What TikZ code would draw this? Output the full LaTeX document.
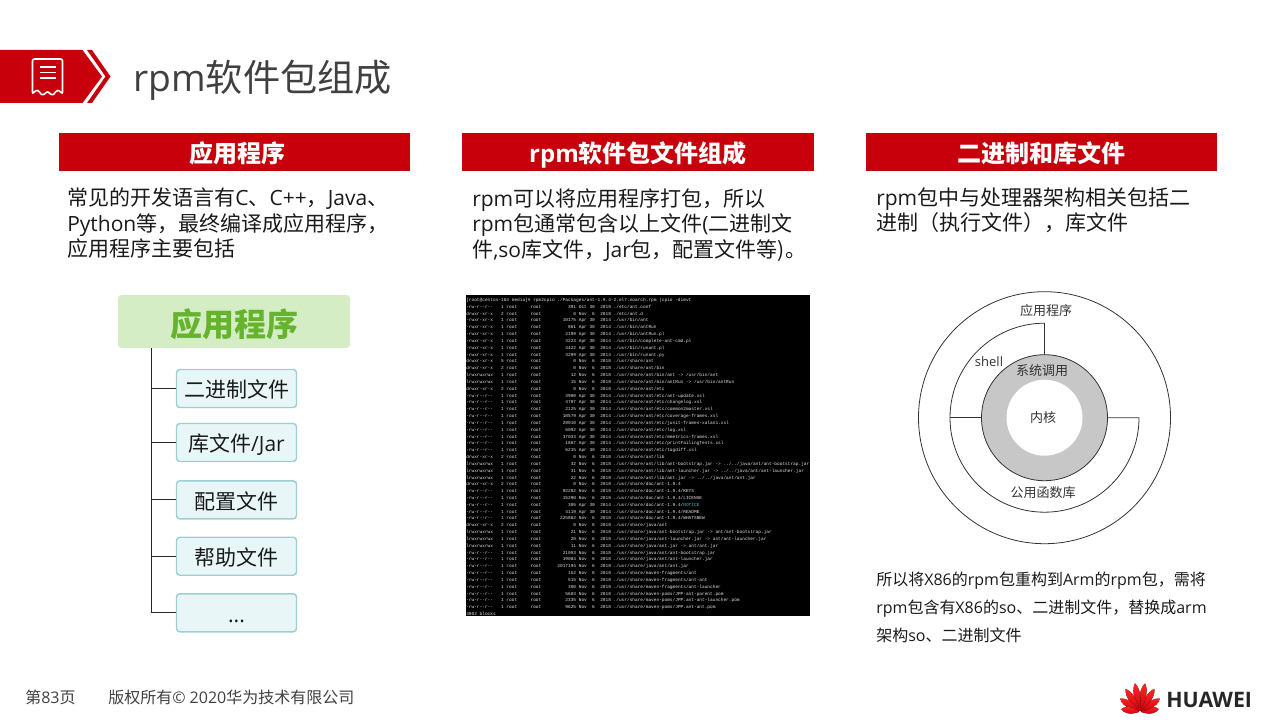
\documentclass[tikz,border=0pt]{standalone}
\usepackage{fontspec}
\setmainfont{Open Sans}
\newfontfamily\zhfont{Noto Sans CJK SC}
\newfontfamily\termfont{Liberation Mono}
\newcommand{\zh}[1]{{\zhfont #1}}
% one row of the listing: mode, links, size, date, year, name
\newcommand{\termrow}[6]{#1~\makebox[1.8em][r]{#2}~root~~~~~root~~~~~\makebox[4.8em][r]{#3}~#4~~#5~#6}
\definecolor{hwred}{HTML}{C7000B}
\definecolor{titlegray}{HTML}{404040}
\definecolor{bodyblack}{HTML}{1A1A1A}
\definecolor{appgreen}{HTML}{D5EDC5}
\definecolor{appgreentext}{HTML}{66B32E}
\definecolor{filefill}{HTML}{E8F6F8}
\definecolor{fileline}{HTML}{9CCFD2}
\definecolor{termtextcol}{HTML}{E4E4E4}
\definecolor{termcyan}{HTML}{22C8D8}
\tikzstyle{headbar} = [fill=hwred, text=white, minimum width=263.3pt, minimum height=28.5pt, inner sep=0pt, text height=18pt, text depth=2.8pt, font=\fontsize{18}{20}\selectfont\bfseries]
\tikzstyle{bodytext} = [anchor=north west, inner sep=0pt, align=left, text=bodyblack, font=\fontsize{15.75}{19.1}\selectfont]
\tikzstyle{appbox} = [fill=appgreen, rounded corners=2.5pt, minimum width=174pt, minimum height=39.5pt, inner sep=0pt, text height=26pt, text depth=4pt, text=appgreentext, font=\fontsize{24}{26}\selectfont\bfseries]
\tikzstyle{filebox} = [fill=filefill, draw=fileline, line width=1.1pt, rounded corners=2.5pt, minimum width=90pt, minimum height=28.5pt, inner sep=0pt, text height=17pt, text depth=3pt, text=bodyblack, font=\fontsize{15.75}{18}\selectfont]
\tikzstyle{branch} = [line width=.75pt, draw=black!85]
\tikzstyle{ring} = [line width=.6pt, draw=black!80]
\tikzstyle{ringtext} = [inner sep=0pt, text=black!80, font=\fontsize{9.75}{11}\selectfont]
\tikzstyle{smalltext} = [anchor=north west, inner sep=0pt, align=left, text=bodyblack, font=\fontsize{12}{21}\selectfont]
\tikzstyle{foot} = [anchor=west, inner sep=0pt, text=titlegray, font=\fontsize{12}{14}\selectfont]
\tikzstyle{termtext} = [anchor=north west, inner sep=0pt, align=left, text=termtextcol, font=\termfont\fontsize{3.35}{5.12}\selectfont]
\tikzstyle{petal} = [top color=#1, bottom color=hwred, draw=none]

\begin{document}
\begin{tikzpicture}[x=.75pt,y=-.75pt]
\useasboundingbox (0,0) rectangle (1280,720);

% title banner
\fill [hwred] (0,50) -- (82.5,50) -- (102,76.5) -- (82.5,103) -- (0,103) -- cycle;
\fill [hwred] (87,50) -- (92,50) -- (110.5,76.5) -- (92,103) -- (87,103) -- (105.5,76.5) -- cycle;
\draw [white, line width=1.2pt, rounded corners=1.5pt] (32.5,59) -- (62.5,59) -- (62.5,94)
  .. controls (59,90) and (57,90) .. (55,93) .. controls (53,95) and (51,95) .. (47.5,91)
  .. controls (44,95) and (42,95) .. (40,93) .. controls (38,90) and (36,90) .. (32.5,94) -- cycle;
\draw [white, line width=1.2pt] (39.5,67) -- (55.5,67) (39.5,72.5) -- (55.5,72.5) (39.5,78) -- (55.5,78);
\node (title) [anchor=west, inner sep=0pt, text=titlegray, font=\fontsize{27.9}{30}\selectfont] at (133,80) {rpm\zh{软件包组成}};

% three columns
\node (apphead) [headbar] at (234.5,152) {\hspace{4.5pt}\zh{应用程序}};
\node (rpmhead) [headbar, minimum width=264pt] at (638,152) {rpm\zh{软件包文件组成}};
\node (binhead) [headbar] at (1041.5,152) {\zh{二进制和库文件}};
\node (apptext) [bodytext] at (67,188) {\zh{常见的开发语言有}C\zh{、}C++\zh{，}Java\zh{、}\\Python\zh{等，最终编译成应用程序，}\\\zh{应用程序主要包括}};
\node (rpmtext) [bodytext] at (472,188) {rpm\zh{可以将应用程序打包，所以}\\rpm\zh{包通常包含以上文件}(\zh{二进制文}\\\zh{件},so\zh{库文件，}Jar\zh{包，配置文件等)。}};
\node (bintext) [bodytext] at (876,187) {rpm\zh{包中与处理器架构相关包括二}\\\zh{进制（执行文件），库文件}};

% left tree
\node (appbox) [appbox] at (234,321.5) {\zh{应用程序}};
\node (binfile) [filebox] at (236.5,388.5) {\zh{二进制文件}};
\node (libfile) [filebox, below of=binfile, node distance=40.5pt] {\zh{库文件}/Jar};
\node (conffile) [filebox, below of=libfile, node distance=43pt] {\zh{配置文件}};
\node (helpfile) [filebox, below of=conffile, node distance=42.3pt] {\zh{帮助文件}};
\node (morefile) [filebox, below of=helpfile, node distance=42.4pt] {...};
\coordinate (trunk) at (151,348);
\draw [branch] (trunk) |- (binfile);
\draw [branch] (trunk) |- (libfile);
\draw [branch] (trunk) |- (conffile);
\draw [branch] (trunk) |- (helpfile);
\draw [branch] (trunk) |- (morefile);

% terminal listing
\fill [black] (466,295) rectangle (810,616);
\node (listing) [termtext] at (466,298) {[root@centos-164 media]\# rpm2cpio ./Packages/ant-1.9.4-2.el7.noarch.rpm |cpio -dimvt\\
\termrow{-rw-r--r--}{1}{391}{Oct 30}{2018}{./etc/ant.conf}\\
\termrow{drwxr-xr-x}{2}{0}{Nov~~6}{2018}{./etc/ant.d}\\
\termrow{-rwxr-xr-x}{1}{10175}{Apr 30}{2014}{./usr/bin/ant}\\
\termrow{-rwxr-xr-x}{1}{861}{Apr 30}{2014}{./usr/bin/antRun}\\
\termrow{-rwxr-xr-x}{1}{2199}{Apr 30}{2014}{./usr/bin/antRun.pl}\\
\termrow{-rwxr-xr-x}{1}{3223}{Apr 30}{2014}{./usr/bin/complete-ant-cmd.pl}\\
\termrow{-rwxr-xr-x}{1}{4422}{Apr 30}{2014}{./usr/bin/runant.pl}\\
\termrow{-rwxr-xr-x}{1}{3299}{Apr 30}{2014}{./usr/bin/runant.py}\\
\termrow{drwxr-xr-x}{5}{0}{Nov~~6}{2018}{./usr/share/ant}\\
\termrow{drwxr-xr-x}{2}{0}{Nov~~6}{2018}{./usr/share/ant/bin}\\
\termrow{lrwxrwxrwx}{1}{12}{Nov~~6}{2018}{./usr/share/ant/bin/ant -> /usr/bin/ant}\\
\termrow{lrwxrwxrwx}{1}{15}{Nov~~6}{2018}{./usr/share/ant/bin/antRun -> /usr/bin/antRun}\\
\termrow{drwxr-xr-x}{2}{0}{Nov~~6}{2018}{./usr/share/ant/etc}\\
\termrow{-rw-r--r--}{1}{3900}{Apr 30}{2014}{./usr/share/ant/etc/ant-update.xsl}\\
\termrow{-rw-r--r--}{1}{4797}{Apr 30}{2014}{./usr/share/ant/etc/changelog.xsl}\\
\termrow{-rw-r--r--}{1}{2125}{Apr 30}{2014}{./usr/share/ant/etc/common2master.xsl}\\
\termrow{-rw-r--r--}{1}{10579}{Apr 30}{2014}{./usr/share/ant/etc/coverage-frames.xsl}\\
\termrow{-rw-r--r--}{1}{29010}{Apr 30}{2014}{./usr/share/ant/etc/junit-frames-xalan1.xsl}\\
\termrow{-rw-r--r--}{1}{6092}{Apr 30}{2014}{./usr/share/ant/etc/log.xsl}\\
\termrow{-rw-r--r--}{1}{37033}{Apr 30}{2014}{./usr/share/ant/etc/mmetrics-frames.xsl}\\
\termrow{-rw-r--r--}{1}{1867}{Apr 30}{2014}{./usr/share/ant/etc/printFailingTests.xsl}\\
\termrow{-rw-r--r--}{1}{6215}{Apr 30}{2014}{./usr/share/ant/etc/tagdiff.xsl}\\
\termrow{drwxr-xr-x}{2}{0}{Nov~~6}{2018}{./usr/share/ant/lib}\\
\termrow{lrwxrwxrwx}{1}{32}{Nov~~6}{2018}{./usr/share/ant/lib/ant-bootstrap.jar -> ../../java/ant/ant-bootstrap.jar}\\
\termrow{lrwxrwxrwx}{1}{31}{Nov~~6}{2018}{./usr/share/ant/lib/ant-launcher.jar -> ../../java/ant/ant-launcher.jar}\\
\termrow{lrwxrwxrwx}{1}{22}{Nov~~6}{2018}{./usr/share/ant/lib/ant.jar -> ../../java/ant/ant.jar}\\
\termrow{drwxr-xr-x}{2}{0}{Nov~~6}{2018}{./usr/share/doc/ant-1.9.4}\\
\termrow{-rw-r--r--}{1}{92282}{Nov~~6}{2018}{./usr/share/doc/ant-1.9.4/KEYS}\\
\termrow{-rw-r--r--}{1}{15290}{Nov~~6}{2018}{./usr/share/doc/ant-1.9.4/LICENSE}\\
\termrow{-rw-r--r--}{1}{305}{Apr 30}{2014}{./usr/share/doc/ant-1.9.4/\textcolor{termcyan}{NOTICE}}\\
\termrow{-rw-r--r--}{1}{4119}{Apr 30}{2014}{./usr/share/doc/ant-1.9.4/README}\\
\termrow{-rw-r--r--}{1}{225862}{Nov~~6}{2018}{./usr/share/doc/ant-1.9.4/WHATSNEW}\\
\termrow{drwxr-xr-x}{2}{0}{Nov~~6}{2018}{./usr/share/java/ant}\\
\termrow{lrwxrwxrwx}{1}{21}{Nov~~6}{2018}{./usr/share/java/ant-bootstrap.jar -> ant/ant-bootstrap.jar}\\
\termrow{lrwxrwxrwx}{1}{20}{Nov~~6}{2018}{./usr/share/java/ant-launcher.jar -> ant/ant-launcher.jar}\\
\termrow{lrwxrwxrwx}{1}{11}{Nov~~6}{2018}{./usr/share/java/ant.jar -> ant/ant.jar}\\
\termrow{-rw-r--r--}{1}{21053}{Nov~~6}{2018}{./usr/share/java/ant/ant-bootstrap.jar}\\
\termrow{-rw-r--r--}{1}{19084}{Nov~~6}{2018}{./usr/share/java/ant/ant-launcher.jar}\\
\termrow{-rw-r--r--}{1}{2017194}{Nov~~6}{2018}{./usr/share/java/ant/ant.jar}\\
\termrow{-rw-r--r--}{1}{152}{Nov~~6}{2018}{./usr/share/maven-fragments/ant}\\
\termrow{-rw-r--r--}{1}{515}{Nov~~6}{2018}{./usr/share/maven-fragments/ant-ant}\\
\termrow{-rw-r--r--}{1}{300}{Nov~~6}{2018}{./usr/share/maven-fragments/ant-launcher}\\
\termrow{-rw-r--r--}{1}{5603}{Nov~~6}{2018}{./usr/share/maven-poms/JPP-ant-parent.pom}\\
\termrow{-rw-r--r--}{1}{2335}{Nov~~6}{2018}{./usr/share/maven-poms/JPP.ant-ant-launcher.pom}\\
\termrow{-rw-r--r--}{1}{9625}{Nov~~6}{2018}{./usr/share/maven-poms/JPP.ant-ant.pom}\\
4902 blocks};

% rings on the right
\coordinate (core) at (1044.5,417.7);
\coordinate (libleft) at (950,417.7);
\draw [ring] (core) circle (126);
\draw [ring, fill=black!22] (core) circle (63);
\fill [white] (core) circle (38);
\draw [ring] (libleft) arc [start angle=180, end angle=270, radius=94.5] -- (1044.5,354.7);
\draw [ring] (libleft) arc [start angle=180, end angle=0, radius=94.5] -- (1107.5,417.7);
\draw [ring] (libleft) -- (981.5,417.7);
\node (apptag) [ringtext] at (1046,311) {\zh{应用程序}};
\node (shelltag) [ringtext] at (989,362) {shell};
\node (calltag) [ringtext] at (1042,370.5) {\zh{系统调用}};
\node (coretag) [ringtext] at (1043,418) {\zh{内核}};
\node (pubtag) [ringtext] at (1043,493) {\zh{公用函数库}};
\node (note) [smalltext] at (876,572) {\zh{所以将}X86\zh{的}rpm\zh{包重构到}Arm\zh{的}rpm\zh{包，需将}\\rpm\zh{包含有}X86\zh{的}so\zh{、二进制文件，替换成}arm\\\zh{架构}so\zh{、二进制文件}};

% footer and logo
\node (pageno) [foot] at (25,697) {\zh{第}83\zh{页}};
\node (copyright) [foot] at (108,697) {\zh{版权所有}© 2020\zh{华为技术有限公司}};
\foreach \ang/\len in {-81/19,-56/24,-32/27,-10/29,10/29,32/27,56/24,81/19}
  \fill [petal=red!85!white, shift={(1140,712)}, rotate=\ang]
    (0,-1) .. controls (-4.6,-.45*\len) and (-3.8,-.85*\len) .. (0,-\len)
    .. controls (3.8,-.85*\len) and (4.6,-.45*\len) .. (0,-1) -- cycle;
\node (brand) [anchor=west, inner sep=0pt, text=black!85, font=\fontsize{16}{18}\selectfont\bfseries] at (1166,700) {HUAWEI};
\end{tikzpicture}
\end{document}
